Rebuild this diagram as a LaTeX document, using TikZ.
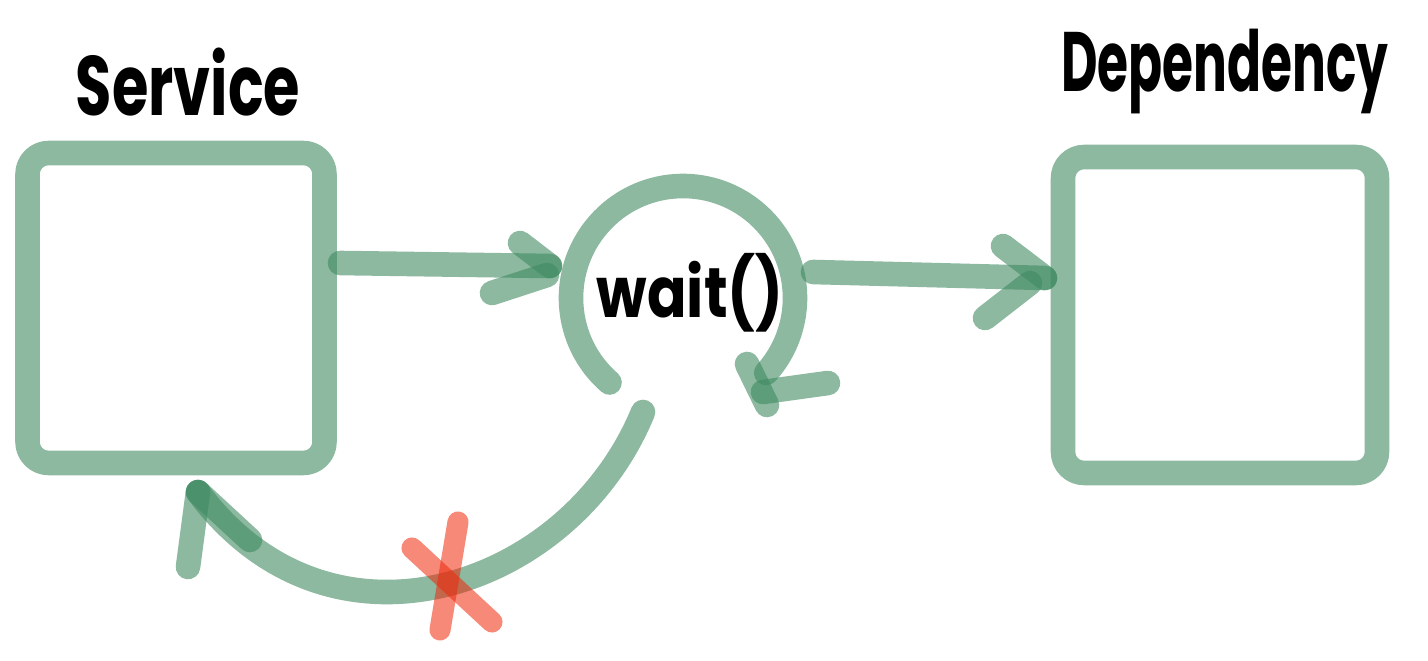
\documentclass[tikz,border=0pt]{standalone}
\usepackage{fontspec}
\setmainfont{Poppins}
\usetikzlibrary{positioning}

\definecolor{penGreen}{RGB}{63,138,97}
\definecolor{penRed}{RGB}{238,40,10}

\tikzset{
  pen/.style={draw=penGreen, draw opacity=0.6, line width=14pt,
    line cap=round, line join=round},
  redpen/.style={pen, draw=penRed, draw opacity=0.55, line width=12pt},
  boxpen/.style={pen, rounded corners=12pt, inner sep=0pt},
  title/.style={font=\bfseries\fontsize{48}{48}\selectfont, inner sep=0pt,
    xscale=0.7, transform shape},
  calltext/.style={font=\bfseries\fontsize{40}{40}\selectfont, inner sep=0pt,
    xscale=0.83, transform shape},
}

\begin{document}
\begin{tikzpicture}[x=0.02cm, y=-0.02cm]
\useasboundingbox (0,0) rectangle (1428,661);

% boxes
\node[boxpen, minimum width=5.94cm, minimum height=6.2cm] (svc) at (176,308) {};
\node[boxpen, minimum width=6.28cm, minimum height=6.32cm] (dep) at (1220,315) {};

% titles
\node[title] (svcname) at (188,82) {Service};
\node[title, xscale=0.85] (depname) at (1225,72) {Dependency};

% the wait() loop
\node[calltext] (wt) at (690,293) {wait()};
\coordinate (loop) at (683,298);
\draw[pen] (loop) ++(131:112) arc[start angle=131, end angle=402, radius=112]
  coordinate (loopend);
\draw[pen] (747,364) -- (767,405);
\draw[pen] (763,392) -- (828,383);

% service -> wait()
\coordinate (a1s) at (340,263);
\coordinate (a1e) at (550,266);
\draw[pen] (a1s) -- (a1e);
\draw[pen] (520,243) -- (a1e);
\draw[pen] (492,293) -- (547,275);

% wait() -> dependency
\coordinate (a2s) at (813,272);
\coordinate (a2e) at (1045,278);
\draw[pen] (a2s) -- (a2e);
\draw[pen] (1003,246) -- (a2e);
\draw[pen] (985,318) -- (1030,283);

% reply that never comes back
\coordinate (rs) at (643,412);
\coordinate (re) at (198,492);
\draw[pen] (rs) .. controls (570,590) and (330,670) .. (re);
\draw[pen] (re) -- (188,567);
\draw[pen] (re) -- (250,540);

% cross on the reply
\draw[redpen] (458,522) -- (440,630);
\draw[redpen] (412,548) -- (492,622);

\end{tikzpicture}
\end{document}
